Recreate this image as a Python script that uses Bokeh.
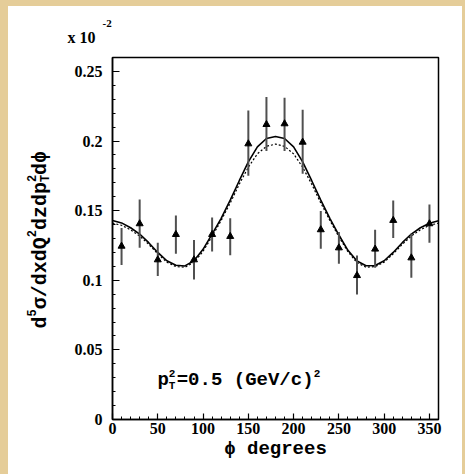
import numpy as np
from bokeh.plotting import figure
from bokeh.models import Label, FixedTicker, Spacer
from bokeh.layouts import column, row
from bokeh.core.properties import value
from bokeh.embed import file_html
from bokeh.resources import INLINE

# ---------------- data ----------------
phi_curve = [0, 10, 20, 30, 40, 50, 60, 70, 80, 90, 100, 110, 120, 130, 140, 150, 160, 170, 180,
             190, 200, 210, 220, 230, 240, 250, 260, 270, 280, 290, 300, 310, 320, 330, 340, 350, 360]
sigma_solid = [0.1430, 0.1412, 0.1377, 0.1332, 0.1270, 0.1200, 0.1140, 0.1108, 0.1103, 0.1140,
               0.1222, 0.1332, 0.1445, 0.1575, 0.1715, 0.1850, 0.1958, 0.2018, 0.2033,
               0.2018, 0.1958, 0.1850, 0.1715, 0.1575, 0.1445, 0.1325, 0.1215, 0.1138, 0.1104,
               0.1106, 0.1140, 0.1200, 0.1270, 0.1332, 0.1377, 0.1410, 0.1428]
sigma_dashed = [0.1410, 0.1395, 0.1362, 0.1318, 0.1258, 0.1190, 0.1130, 0.1098, 0.1094, 0.1128,
                0.1208, 0.1315, 0.1430, 0.1555, 0.1690, 0.1812, 0.1908, 0.1962, 0.1978,
                0.1962, 0.1908, 0.1812, 0.1690, 0.1555, 0.1430, 0.1312, 0.1205, 0.1126, 0.1094,
                0.1098, 0.1130, 0.1190, 0.1258, 0.1318, 0.1362, 0.1395, 0.1410]

phi_pts = [10, 30, 50, 70, 90, 110, 130, 150, 170, 190, 210, 230, 250, 270, 290, 310, 330, 350]
sigma_pts = [0.1245, 0.1406, 0.1147, 0.1329, 0.1147, 0.1329, 0.1315, 0.1980, 0.2119,
             0.2124, 0.1992, 0.1363, 0.1233, 0.1034, 0.1224, 0.1430, 0.1161, 0.1406]
err_hi = [0.1375, 0.1580, 0.1270, 0.1466, 0.1290, 0.1450, 0.1446, 0.2220, 0.2316,
          0.2311, 0.2225, 0.1497, 0.1346, 0.1178, 0.1363, 0.1573, 0.1334, 0.1545]
err_lo = [0.1110, 0.1233, 0.1030, 0.1190, 0.1006, 0.1207, 0.1180, 0.1750, 0.1928,
          0.1928, 0.1765, 0.1226, 0.1118, 0.0898, 0.1090, 0.1303, 0.1018, 0.1269]

x_ticks = [0, 50, 100, 150, 200, 250, 300, 350]
x_tick_labels = ["0", "50", "100", "150", "200", "250", "300", "350"]
x_minor = list(range(0, 361, 10))
y_ticks = [0, 0.05, 0.1, 0.15, 0.2, 0.25]
y_tick_labels = ["0", "0.05", "0.1", "0.15", "0.2", "0.25"]
y_minor = [i / 100 for i in range(0, 27)]

PARCHMENT = "#e5cd99"
LEFT_W, TOP_H = 50, 44
MAIN_W, MAIN_H = 404, 424
B_TOP, B_BOTTOM = 7, 55
FRAME_H = MAIN_H - B_TOP - B_BOTTOM


def blank_fig(w, h, ymax, bt=0, bb=0):
    f = figure(width=w, height=h, x_range=(0, w), y_range=(0, ymax),
               x_axis_type=None, y_axis_type=None, output_backend="svg",
               toolbar_location=None, min_border_left=0, min_border_right=0,
               min_border_top=bt, min_border_bottom=bb)
    f.xgrid.visible = False
    f.ygrid.visible = False
    f.outline_line_color = None
    f.background_fill_color = "white"
    f.border_fill_color = "white"
    return f


def put_text(f, x, y, txt, font, fs, angle=0.0):
    f.text(x=[x], y=[y], text=[txt], angle=angle, text_font=value(font),
           text_font_style="bold", text_font_size=value(f"{fs}px"), text_color="black",
           text_baseline="alphabetic", text_align="left")


# ---------------- main figure ----------------
p = figure(width=MAIN_W, height=MAIN_H, x_range=(0, 360), y_range=(0, 0.26),
           output_backend="svg", toolbar_location=None,
           min_border_left=54, min_border_right=24, min_border_top=B_TOP, min_border_bottom=B_BOTTOM)
p.xgrid.visible = False
p.ygrid.visible = False
p.background_fill_color = "white"
p.border_fill_color = "white"
p.outline_line_color = "black"
p.outline_line_width = 1.5

p.xaxis.ticker = FixedTicker(ticks=x_ticks, minor_ticks=x_minor)
p.yaxis.ticker = FixedTicker(ticks=y_ticks, minor_ticks=y_minor)
p.xaxis.major_label_overrides = dict(zip(x_ticks, x_tick_labels))
p.yaxis.major_label_overrides = dict(zip(y_ticks, y_tick_labels))

for ax in (p.xaxis, p.yaxis):
    ax.major_tick_in = 7
    ax.major_tick_out = 0
    ax.minor_tick_in = 3
    ax.minor_tick_out = 0
    ax.axis_line_width = 1.5
    ax.axis_line_color = "black"
    ax.major_tick_line_width = 1.2
    ax.minor_tick_line_width = 1
    ax.major_tick_line_color = "black"
    ax.minor_tick_line_color = "black"
    ax.major_label_text_font = "Liberation Serif"
    ax.major_label_text_font_style = "bold"
    ax.major_label_text_font_size = "16px"
    ax.major_label_text_color = "black"
p.xaxis.major_tick_in = 6
p.xaxis.major_label_standoff = 3
p.yaxis.major_label_standoff = 10

p.xaxis.axis_label = "\u03d5 degrees"
p.xaxis.axis_label_text_font = "Liberation Mono"
p.xaxis.axis_label_text_font_style = "bold"
p.xaxis.axis_label_text_font_size = "19px"
p.xaxis.axis_label_text_color = "black"
p.xaxis.axis_label_standoff = 1

# curves
p.line(phi_curve, sigma_solid, line_color="black", line_width=1.6)
p.line(phi_curve, sigma_dashed, line_color="black", line_width=1.2, line_dash="2 2")

# data points with error bars
p.segment(phi_pts, err_lo, phi_pts, err_hi, line_color="#505050", line_width=2)
p.scatter(phi_pts, sigma_pts, marker="triangle", size=7, color="black")

# in-plot annotation
ann_x, ann_y = 49.6, 0.0285
ann_pieces = [("p", 0, 0, 19), ("2", 11.4, 6, 11), ("T", 11.4, -6, 11),
              ("=0.5 (GeV/c)", 19.3, 0, 19), ("2", 156.3, 6, 11)]
for txt, dx, dy, fs in ann_pieces:
    p.add_layout(Label(x=ann_x, y=ann_y, x_offset=dx, y_offset=dy, text=txt,
                       text_font="Liberation Mono", text_font_style="bold",
                       text_font_size=f"{fs}px", text_color="black",
                       text_baseline="alphabetic", text_align="left"))

# ---------------- left strip: rotated y-axis title (coords relative to frame bottom) ----------------
left = blank_fig(LEFT_W, MAIN_H, FRAME_H, bt=B_TOP, bb=B_BOTTOM)
fs_main, fs_small = 20, 12
cw, cws = 0.6 * fs_main, 0.6 * fs_small
base_x, y_cur = 32, 91
pieces = [("d", "main"), ("5", "sup"), ("\u03c3/dxdQ", "main"), ("2", "sup"),
          ("dzdp", "main"), ("2|T", "stack"), ("d\u03d5", "main")]
for txt, kind in pieces:
    if kind == "main":
        put_text(left, base_x, y_cur, txt, "Liberation Mono", fs_main, np.pi / 2)
        y_cur += cw * len(txt)
    elif kind == "sup":
        put_text(left, base_x - 9, y_cur, txt, "Liberation Mono", fs_small, np.pi / 2)
        y_cur += cws * len(txt)
    else:
        s1, s2 = txt.split("|")
        put_text(left, base_x - 9, y_cur, s1, "Liberation Mono", fs_small, np.pi / 2)
        put_text(left, base_x + 5, y_cur, s2, "Liberation Mono", fs_small, np.pi / 2)
        y_cur += cws

# ---------------- top strip: "x 10^-2" ----------------
top = blank_fig(LEFT_W + MAIN_W, TOP_H, TOP_H)
put_text(top, 59, 13, "x 10", "Liberation Serif", 16)
put_text(top, 94, 27, "-2", "Liberation Serif", 11)

panel = column(top, row(left, p, styles={"background-color": "white"}),
               styles={"background-color": "white"})
layout = column(Spacer(width=465, height=6),
                row(Spacer(width=8, height=468), panel, Spacer(width=3, height=468)),
                styles={"background-color": PARCHMENT})

open("out.html", "w").write(file_html(layout, INLINE))
